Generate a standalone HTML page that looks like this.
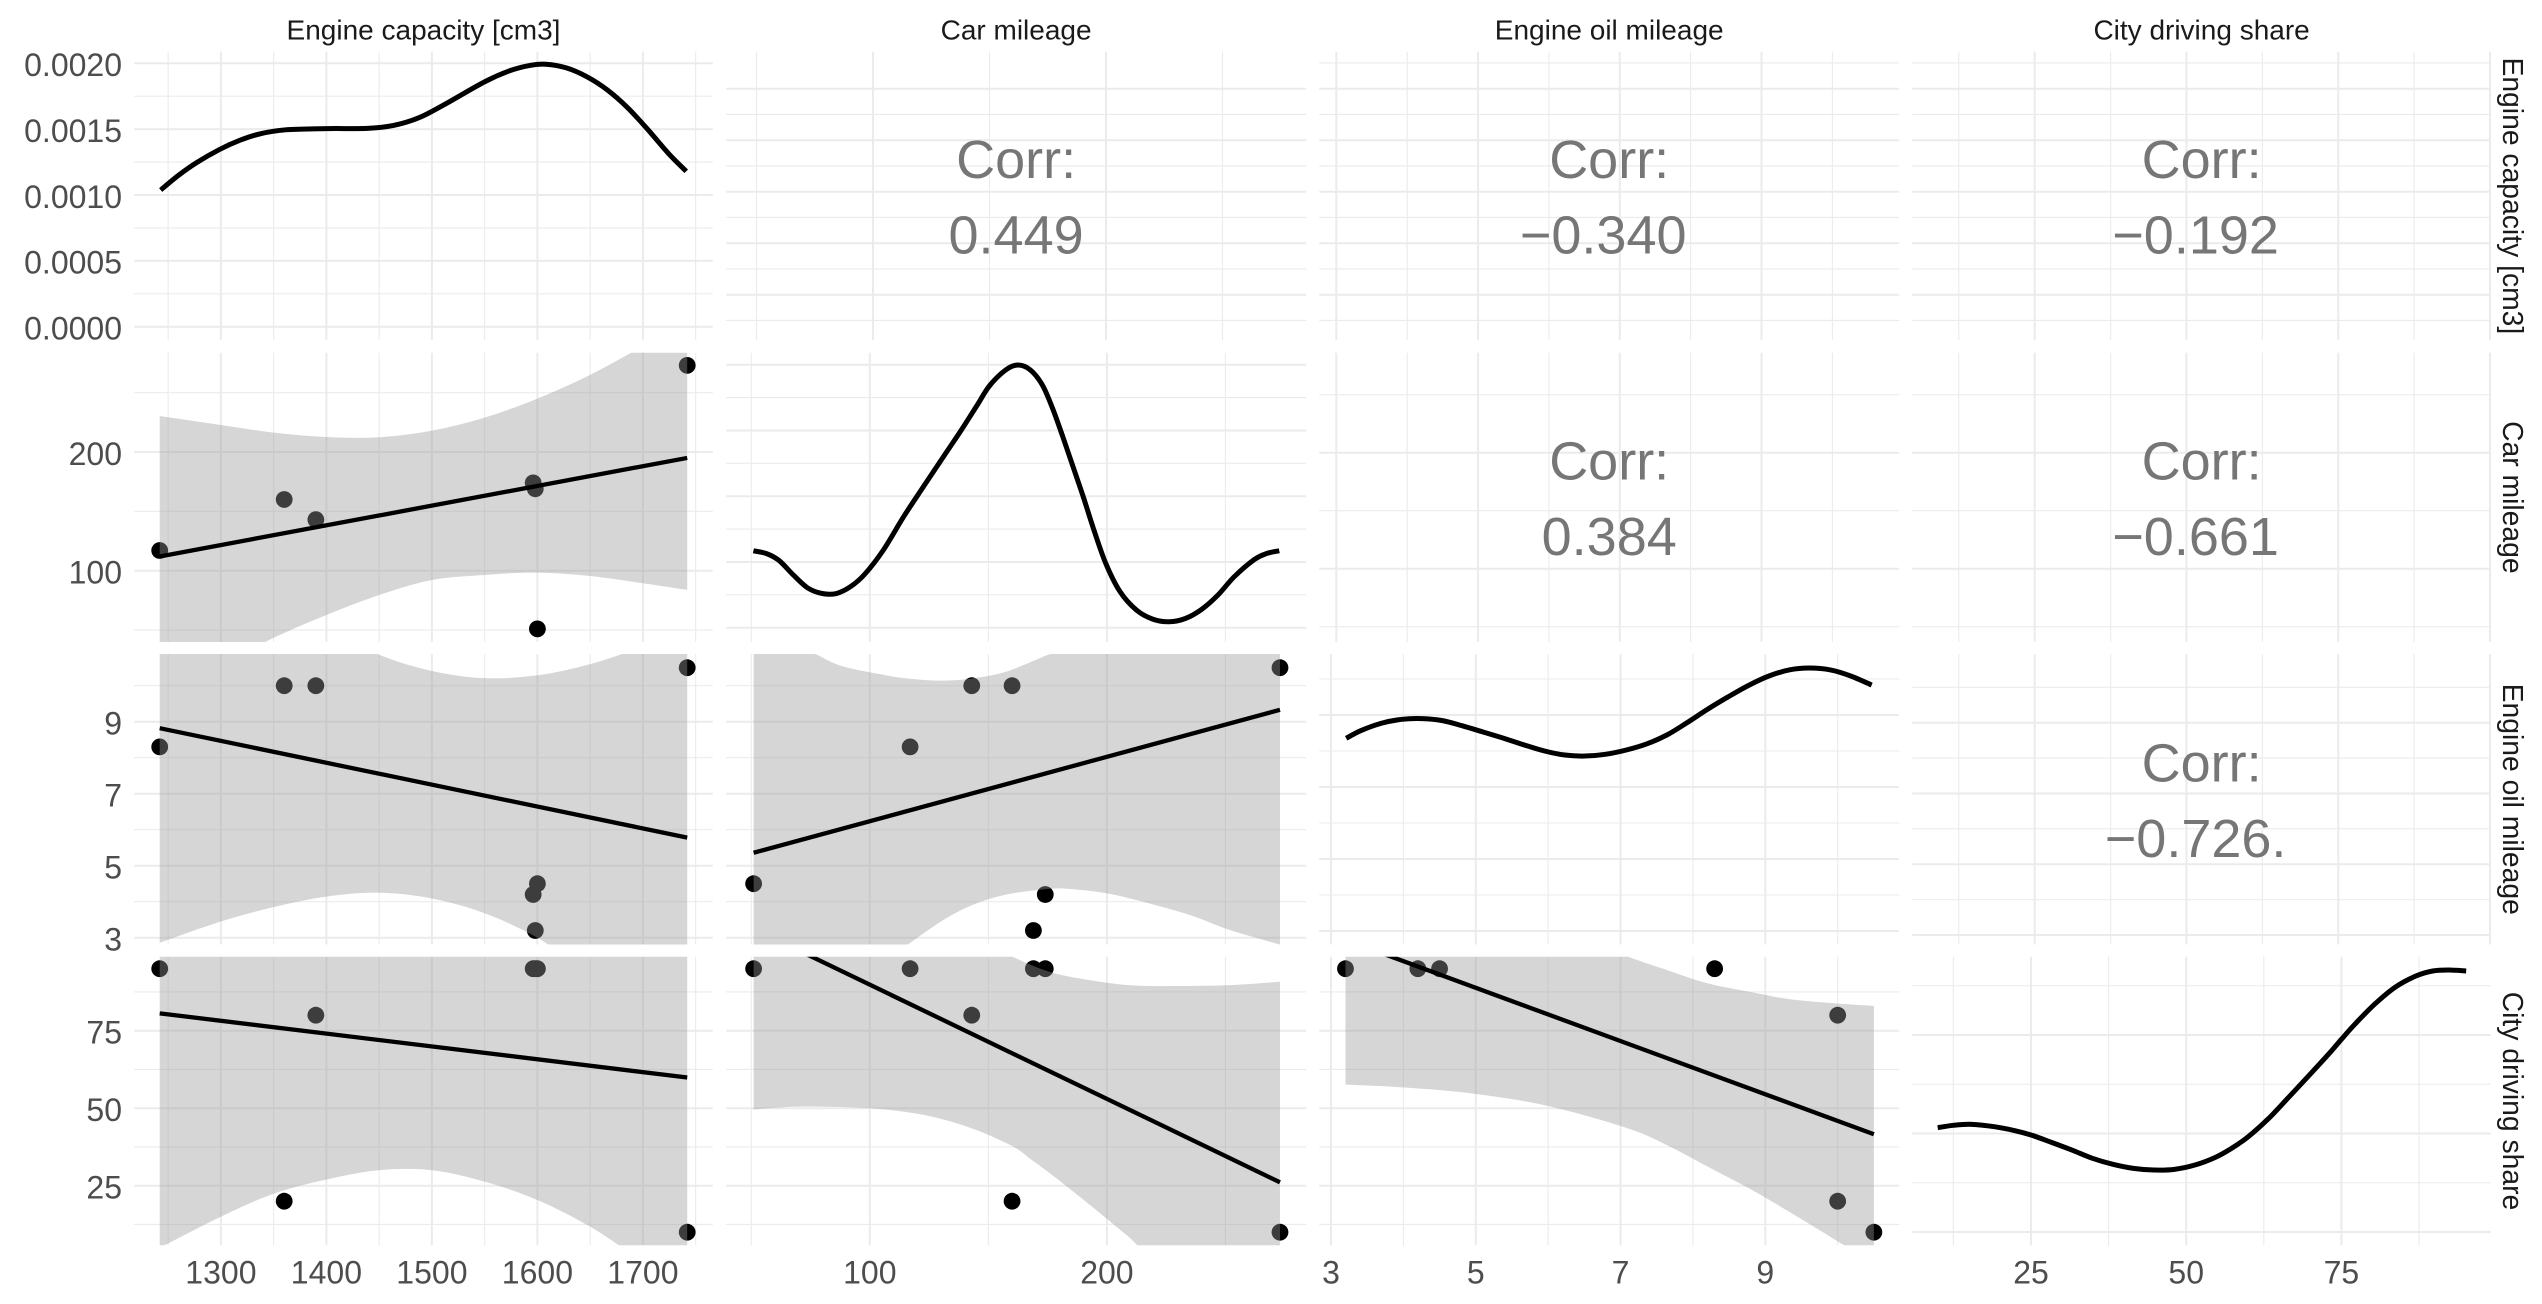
<!DOCTYPE html>
<html lang="en">
<head>
<meta charset="utf-8">
<title>Pairwise plot of car variables</title>
<style>
html,body{margin:0;padding:0;background:#fff;overflow:hidden;width:2542px;height:1304px;}
svg{display:block;font-family:"Liberation Sans",Arial,sans-serif;}
</style>
</head>
<body>
<svg id="chart" xmlns="http://www.w3.org/2000/svg" width="2542" height="1304" viewBox="0 0 2542 1304">
<rect x="0" y="0" width="2542" height="1304" fill="#ffffff"/>
<defs id="clips"></defs>
</svg>
<script>
// ---------- observations ----------
const capacity = [1242, 1360, 1390, 1596, 1598, 1600, 1742];
const mileage = [117, 160, 143, 174, 169, 51, 273];
const oil = [8.3, 10, 10, 4.2, 3.2, 4.5, 10.5];
const city = [95, 20, 80, 95, 95, 95, 10];

// ---------- labels ----------
const variableNames = ["Engine capacity [cm3]", "Car mileage", "Engine oil mileage", "City driving share"];
const corrLabels12 = "0.449";
const corrLabels13 = "\u22120.340";
const corrLabels14 = "\u22120.192";
const corrLabels23 = "0.384";
const corrLabels24 = "\u22120.661";
const corrLabels34 = "\u22120.726.";

// ---------- tick values ----------
const capMajor = [1300, 1400, 1500, 1600, 1700];
const capMinor = [1250, 1350, 1450, 1550, 1650, 1750];
const milMajor = [100, 200];
const milMinor = [50, 150, 250];
const oilMajor = [3, 5, 7, 9];
const oilMinor = [4, 6, 8, 10];
const cityMajor = [25, 50, 75];
const cityMinor = [12.5, 37.5, 62.5, 87.5];
const cityCorrMajor = [25, 50, 75, 100];
const densCapMajor = [0, 0.0005, 0.001, 0.0015, 0.002];
const densCapMinor = [0.00025, 0.00075, 0.00125, 0.00175];
const densCapLabels = ["0.0000", "0.0005", "0.0010", "0.0015", "0.0020"];
const densMilMajor = [0, 0.002, 0.004, 0.006, 0.008];
const densMilMinor = [0.001, 0.003, 0.005, 0.007];
const densOilMajor = [0, 0.05, 0.1, 0.15];
const densOilMinor = [0.025, 0.075, 0.125, 0.175];
const densCityMajor = [0, 0.01, 0.02];
const densCityMinor = [0.005, 0.015, 0.025];

// ---------- density curves ----------
const densCapX = [1242.9, 1259.9, 1276.8, 1298.6, 1317.9, 1337.3, 1361.4, 1400, 1438.8, 1463, 1487.2, 1511.4, 1550.1, 1574.3, 1593.6, 1608.1, 1627.5, 1646.8, 1666.2, 1685.6, 1704.9, 1724.3, 1741.1];
const densCapY = [0.001038, 0.00115, 0.001245, 0.001345, 0.001415, 0.001465, 0.001495, 0.001504, 0.001506, 0.001527, 0.001585, 0.001685, 0.00186, 0.001945, 0.001985, 0.001993, 0.001965, 0.001898, 0.001798, 0.001662, 0.001495, 0.001315, 0.00118];
const densMilX = [50.9, 56.6, 61.8, 67.8, 73.8, 79.9, 85.9, 91.9, 97.9, 105.7, 114.3, 122.9, 131.5, 138.4, 145.3, 150.5, 157.3, 162.5, 167.7, 172.8, 177.1, 181.4, 185.7, 190, 194.3, 199.5, 205.5, 212.4, 219.3, 226.2, 233.1, 240, 246.8, 253.7, 262.3, 267.5, 272.7];
const densMilY = [0.00234, 0.00225, 0.00204, 0.0016, 0.00121, 0.00104, 0.00104, 0.00125, 0.00163, 0.00236, 0.00338, 0.00432, 0.00525, 0.00599, 0.00677, 0.00736, 0.00784, 0.00799, 0.00784, 0.00738, 0.00667, 0.00581, 0.0049, 0.00399, 0.00302, 0.00196, 0.0011, 0.00054, 0.00026, 0.00018, 0.00028, 0.00056, 0.00099, 0.00155, 0.00208, 0.00226, 0.00234];
const densOilX = [3.21, 3.41, 3.69, 3.98, 4.26, 4.54, 4.82, 5.1, 5.39, 5.67, 5.95, 6.23, 6.51, 6.79, 7.08, 7.36, 7.64, 7.92, 8.2, 8.49, 8.77, 9.05, 9.33, 9.61, 9.9, 10.18, 10.47];
const densOilY = [0.1338, 0.1391, 0.1442, 0.147, 0.1475, 0.1461, 0.1424, 0.1382, 0.1338, 0.1292, 0.125, 0.1222, 0.1215, 0.1227, 0.1257, 0.1299, 0.1361, 0.1447, 0.1539, 0.1627, 0.1706, 0.1771, 0.1813, 0.1826, 0.1813, 0.1771, 0.1708];
const densCityX = [9.97, 12.5, 15.4, 19.1, 22.4, 25, 28.3, 31.6, 34.9, 38.2, 41.5, 44.8, 48.1, 51.4, 54.7, 57.3, 60, 63.3, 66.6, 69.9, 73.2, 75, 77.1, 80.4, 83.7, 87, 89.7, 92.3, 95.1];
const densCityY = [0.01059, 0.01083, 0.01093, 0.01069, 0.01029, 0.00985, 0.0091, 0.00832, 0.00748, 0.00687, 0.00646, 0.00629, 0.00636, 0.0068, 0.00758, 0.00849, 0.00968, 0.01154, 0.01374, 0.01597, 0.01824, 0.01956, 0.02105, 0.02315, 0.02487, 0.02599, 0.0265, 0.0266, 0.0265];

// ---------- regression lines and confidence bands ----------
const fitCapX = [1242, 1742];
const fitMilX = [51, 273];
const fitOilX = [3.2, 10.5];
const fitMilOnCap = [112, 195];
const fitOilOnCap = [8.82, 5.78];
const fitCityOnCap = [80.6, 59.9];
const fitOilOnMil = [5.36, 9.33];
const fitCityOnMil = [107.9, 26.1];
const fitCityOnOil = [104.3, 41.6];

const bandCapX = [1242, 1300, 1350, 1400, 1450, 1500, 1550, 1600, 1650, 1700, 1742];
const bandMilOnCapHigh = [230.3, 222.7, 216.3, 212.6, 212.4, 218, 229, 245, 265, 289, 310];
const bandMilOnCapLow = [-6.3, 20.5, 43.5, 62.7, 79.5, 92.2, 96.4, 98.4, 95.5, 89.4, 83.8];
const bandOilOnCapHigh = [14.78, 13.48, 12.48, 11.58, 10.86, 10.41, 10.21, 10.29, 10.6, 11.1, 11.9];
const bandOilOnCapLow = [2.86, 3.45, 3.85, 4.14, 4.25, 4.09, 3.68, 3.0, 2.08, 0.97, -0.3];
const bandCityOnCapHigh = [156, 141, 130, 121, 114, 110, 109, 111, 116, 122, 128];
const bandCityOnCapLow = [5, 15, 22.4, 27, 30, 30, 26.3, 20.4, 11.8, 1, -8];

const bandOilMilX = [51, 75, 88, 106, 116, 130, 143, 157, 173, 183, 200, 218, 235, 252, 273];
const bandOilOnMilHigh = [12.6, 10.95, 10.55, 10.3, 10.2, 10.14, 10.2, 10.38, 10.8, 11.08, 11.81, 12.75, 13.67, 14.7, 15.85];
const bandOilOnMilLow = [-2.8, 0.7, 1.49, 2.38, 2.81, 3.45, 3.9, 4.19, 4.34, 4.36, 4.23, 3.95, 3.63, 3.21, 2.81];

const bandCityMilX = [51, 71, 100, 123, 143, 160, 168, 178, 192, 209, 226, 252, 273];
const bandCityOnMilHigh = [166, 150.5, 129.6, 114.8, 104.5, 98.9, 96.2, 93.5, 91.4, 89.7, 89.4, 89.7, 90.8];
const bandCityOnMilLow = [49.6, 50.5, 50, 47.8, 43.5, 37.8, 33.5, 27.8, 19.3, 8.6, -2.6, -22, -38.6];

const bandCityOilX = [3.2, 4, 5, 6, 7.1, 7.64, 8.2, 8.77, 9.33, 10.09, 10.5];
const bandCityOnOilHigh = [151, 138, 123, 109.7, 98.9, 94.6, 90.3, 87.6, 85.2, 83.6, 83];
const bandCityOnOilLow = [57.6, 56.7, 54.6, 50.7, 43.5, 38.1, 31.2, 24.2, 16.6, 5.8, 0.2];

// ---------- layout and axis functions ----------
const NS = "http://www.w3.org/2000/svg";
const svg = document.getElementById("chart");
const clipDefs = document.getElementById("clips");
const colBox = [[134.2, 712.8], [726.1, 1306.1], [1319.2, 1899.2], [1912.3, 2490.9]];
const rowBox = [[51.7, 340], [352.7, 642], [654, 944.5], [956.7, 1245.3]];

function linear(d0, r0, d1, r1) {
  return function (v) { return r0 + (v - d0) * (r1 - r0) / (d1 - d0); };
}
const xCapacity = linear(1300, 220.9, 1700, 642.9);
const xMileage = linear(100, 869.8, 200, 1106.9);
const xOil = linear(3, 1331, 9, 1765.3);
const xCity = linear(25, 2031, 75, 2341.4);
const xMileageCorr = linear(100, 873, 200, 1106);
const xOilCorr = linear(3, 1336.3, 9, 1761.5);
const xCityCorr = linear(25, 2034.7, 100, 2490);
const yCapacityCorr = linear(1300, 294.7, 1700, 88.7);
const yMileage = linear(100, 570.7, 200, 452);
const yMileageCorr = linear(100, 568.7, 200, 452.7);
const yOil = linear(3, 937.7, 9, 721.7);
const yOilCorr = linear(3, 935, 9, 722.7);
const yCity = linear(25, 1185.7, 75, 1030.7);
const yDensCap = linear(0, 326.7, 0.002, 63.3);
const yDensMil = linear(0, 627.7, 0.008, 364.7);
const yDensOil = linear(0, 931, 0.15, 715);
const yDensCity = linear(0, 1232, 0.02, 1035);

function node(parent, type, name) {
  const el = document.createElementNS(NS, type);
  
  
  parent.appendChild(el);
  return el;
}

function makePanel(col, row, name) {
  const g = node(svg, "g", name);
  const id = "clip-" + col + "-" + row;
  const cp = document.createElementNS(NS, "clipPath");
  cp.setAttribute("id", id);
  const r = document.createElementNS(NS, "rect");
  r.setAttribute("x", colBox[col][0]);
  r.setAttribute("y", rowBox[row][0]);
  r.setAttribute("width", colBox[col][1] - colBox[col][0]);
  r.setAttribute("height", rowBox[row][1] - rowBox[row][0]);
  cp.appendChild(r);
  clipDefs.appendChild(cp);
  return { g: g, col: col, row: row, clip: "url(#" + id + ")" };
}

function gridLine(panel, isVertical, pos, width, name) {
  const l = node(panel.g, "line", name);
  if (isVertical) {
    l.setAttribute("x1", pos);
    l.setAttribute("x2", pos);
    l.setAttribute("y1", rowBox[panel.row][0]);
    l.setAttribute("y2", rowBox[panel.row][1]);
  } else {
    l.setAttribute("x1", colBox[panel.col][0]);
    l.setAttribute("x2", colBox[panel.col][1]);
    l.setAttribute("y1", pos);
    l.setAttribute("y2", pos);
  }
  l.setAttribute("stroke", "#EBEBEB");
  l.setAttribute("stroke-width", width);
}

function drawGrid(panel, xScale, yScale, xMaj, xMin, yMaj, yMin) {
  xMin.forEach(function (v) { gridLine(panel, true, xScale(v), 1.1, "minor-gridline-x"); });
  yMin.forEach(function (v) { gridLine(panel, false, yScale(v), 1.1, "minor-gridline-y"); });
  xMaj.forEach(function (v) { gridLine(panel, true, xScale(v), 2, "major-gridline-x"); });
  yMaj.forEach(function (v) { gridLine(panel, false, yScale(v), 2, "major-gridline-y"); });
}

function smoothSegments(pts) {
  let d = "";
  for (let i = 0; i < pts.length - 1; i++) {
    const p0 = pts[Math.max(0, i - 1)], p1 = pts[i], p2 = pts[i + 1], p3 = pts[Math.min(pts.length - 1, i + 2)];
    const c1x = p1[0] + (p2[0] - p0[0]) / 6, c1y = p1[1] + (p2[1] - p0[1]) / 6;
    const c2x = p2[0] - (p3[0] - p1[0]) / 6, c2y = p2[1] - (p3[1] - p1[1]) / 6;
    d += "C" + c1x.toFixed(2) + " " + c1y.toFixed(2) + " " + c2x.toFixed(2) + " " + c2y.toFixed(2) + " " + p2[0].toFixed(2) + " " + p2[1].toFixed(2);
  }
  return d;
}

function toPoints(xs, ys, xScale, yScale) {
  return xs.map(function (v, i) { return [xScale(v), yScale(ys[i])]; });
}

function bandPoints(panel, xs, ys, xScale, yScale) {
  const top = rowBox[panel.row][0] - 30;
  const bottom = rowBox[panel.row][1] + 30;
  return toPoints(xs, ys, xScale, yScale).map(function (p) {
    return [p[0], Math.min(bottom, Math.max(top, p[1]))];
  });
}

function drawDensity(panel, xs, ys, xScale, yScale) {
  const pts = toPoints(xs, ys, xScale, yScale);
  const p = node(panel.g, "path", "density-curve");
  p.setAttribute("d", "M" + pts[0][0].toFixed(2) + " " + pts[0][1].toFixed(2) + smoothSegments(pts));
  p.setAttribute("fill", "none");
  p.setAttribute("stroke", "#000000");
  p.setAttribute("stroke-width", "5");
}

function drawScatter(panel, xValues, yValues, xScale, yScale, bandX, bandHigh, bandLow, fitX, fitY) {
  xValues.forEach(function (v, i) {
    const c = node(panel.g, "circle", "data-point");
    c.setAttribute("cx", xScale(v));
    c.setAttribute("cy", yScale(yValues[i]));
    c.setAttribute("r", "8.4");
    c.setAttribute("fill", "#000000");
  });
  const hi = bandPoints(panel, bandX, bandHigh, xScale, yScale);
  const lo = bandPoints(panel, bandX, bandLow, xScale, yScale).reverse();
  const b = node(panel.g, "path", "confidence-band");
  b.setAttribute("d", "M" + hi[0][0].toFixed(2) + " " + hi[0][1].toFixed(2) + smoothSegments(hi) +
    "L" + lo[0][0].toFixed(2) + " " + lo[0][1].toFixed(2) + smoothSegments(lo) + "Z");
  b.setAttribute("fill", "#999999");
  b.setAttribute("fill-opacity", "0.4");
  b.setAttribute("clip-path", panel.clip);
  const l = node(panel.g, "line", "regression-line");
  l.setAttribute("x1", xScale(fitX[0]));
  l.setAttribute("y1", yScale(fitY[0]));
  l.setAttribute("x2", xScale(fitX[1]));
  l.setAttribute("y2", yScale(fitY[1]));
  l.setAttribute("stroke", "#000000");
  l.setAttribute("stroke-width", "4.3");
  l.setAttribute("clip-path", panel.clip);
}

function label(parent, text, x, y, size, color, anchor, name) {
  const t = node(parent, "text", name);
  t.setAttribute("x", x);
  t.setAttribute("y", y);
  t.setAttribute("font-size", size);
  t.setAttribute("fill", color);
  t.setAttribute("text-anchor", anchor);
  t.textContent = text;
  return t;
}

function drawCorr(panel, value) {
  const cx = (colBox[panel.col][0] + colBox[panel.col][1]) / 2;
  const cy = (rowBox[panel.row][0] + rowBox[panel.row][1]) / 2;
  label(panel.g, "Corr:", cx, cy - 18, 54, "#767676", "middle", "corr-title");
  const dx = value.charAt(0) === "\u2212" ? -6 : 0;
  label(panel.g, value, cx + dx, cy + 57.5, 54, "#767676", "middle", "corr-value");
}

// ---------- row 1 ----------
const p11 = makePanel(0, 0, "panel-capacity-density");
drawGrid(p11, xCapacity, yDensCap, capMajor, capMinor, densCapMajor, densCapMinor);
drawDensity(p11, densCapX, densCapY, xCapacity, yDensCap);

const p12 = makePanel(1, 0, "panel-corr-capacity-mileage");
drawGrid(p12, xMileageCorr, yCapacityCorr, milMajor, milMinor, capMajor, capMinor.slice(0, 5));
drawCorr(p12, corrLabels12);

const p13 = makePanel(2, 0, "panel-corr-capacity-oil");
drawGrid(p13, xOilCorr, yCapacityCorr, oilMajor, oilMinor, capMajor, capMinor);
drawCorr(p13, corrLabels13);

const p14 = makePanel(3, 0, "panel-corr-capacity-city");
drawGrid(p14, xCityCorr, yCapacityCorr, cityCorrMajor, cityMinor, capMajor, capMinor);
drawCorr(p14, corrLabels14);

// ---------- row 2 ----------
const p21 = makePanel(0, 1, "panel-scatter-mileage-capacity");
drawGrid(p21, xCapacity, yMileage, capMajor, capMinor, milMajor, milMinor);
drawScatter(p21, capacity, mileage, xCapacity, yMileage, bandCapX, bandMilOnCapHigh, bandMilOnCapLow, fitCapX, fitMilOnCap);

const p22 = makePanel(1, 1, "panel-mileage-density");
drawGrid(p22, xMileage, yDensMil, milMajor, milMinor, densMilMajor, densMilMinor);
drawDensity(p22, densMilX, densMilY, xMileage, yDensMil);

const p23 = makePanel(2, 1, "panel-corr-mileage-oil");
drawGrid(p23, xOilCorr, yMileageCorr, oilMajor, oilMinor, milMajor, milMinor);
drawCorr(p23, corrLabels23);

const p24 = makePanel(3, 1, "panel-corr-mileage-city");
drawGrid(p24, xCityCorr, yMileageCorr, cityCorrMajor, cityMinor, milMajor, milMinor);
drawCorr(p24, corrLabels24);

// ---------- row 3 ----------
const p31 = makePanel(0, 2, "panel-scatter-oil-capacity");
drawGrid(p31, xCapacity, yOil, capMajor, capMinor, oilMajor, oilMinor);
drawScatter(p31, capacity, oil, xCapacity, yOil, bandCapX, bandOilOnCapHigh, bandOilOnCapLow, fitCapX, fitOilOnCap);

const p32 = makePanel(1, 2, "panel-scatter-oil-mileage");
drawGrid(p32, xMileage, yOil, milMajor, milMinor, oilMajor, oilMinor);
drawScatter(p32, mileage, oil, xMileage, yOil, bandOilMilX, bandOilOnMilHigh, bandOilOnMilLow, fitMilX, fitOilOnMil);

const p33 = makePanel(2, 2, "panel-oil-density");
drawGrid(p33, xOil, yDensOil, oilMajor, oilMinor, densOilMajor, densOilMinor);
drawDensity(p33, densOilX, densOilY, xOil, yDensOil);

const p34 = makePanel(3, 2, "panel-corr-oil-city");
drawGrid(p34, xCityCorr, yOilCorr, cityCorrMajor, cityMinor, oilMajor, oilMinor);
drawCorr(p34, corrLabels34);

// ---------- row 4 ----------
const p41 = makePanel(0, 3, "panel-scatter-city-capacity");
drawGrid(p41, xCapacity, yCity, capMajor, capMinor, cityMajor, cityMinor);
drawScatter(p41, capacity, city, xCapacity, yCity, bandCapX, bandCityOnCapHigh, bandCityOnCapLow, fitCapX, fitCityOnCap);

const p42 = makePanel(1, 3, "panel-scatter-city-mileage");
drawGrid(p42, xMileage, yCity, milMajor, milMinor, cityMajor, cityMinor);
drawScatter(p42, mileage, city, xMileage, yCity, bandCityMilX, bandCityOnMilHigh, bandCityOnMilLow, fitMilX, fitCityOnMil);

const p43 = makePanel(2, 3, "panel-scatter-city-oil");
drawGrid(p43, xOil, yCity, oilMajor, oilMinor, cityMajor, cityMinor);
drawScatter(p43, oil, city, xOil, yCity, bandCityOilX, bandCityOnOilHigh, bandCityOnOilLow, fitOilX, fitCityOnOil);

const p44 = makePanel(3, 3, "panel-city-density");
drawGrid(p44, xCity, yDensCity, cityMajor, cityMinor, densCityMajor, densCityMinor);
drawDensity(p44, densCityX, densCityY, xCity, yDensCity);

// ---------- axis tick labels ----------
const axisColor = "#4D4D4D";
const axisSize = 32;
const yLabelRight = 122;
const yLabelDrop = 12.8;
const xLabelBaseline = 1283.3;

densCapMajor.forEach(function (v, i) {
  label(svg, densCapLabels[i], yLabelRight, yDensCap(v) + yLabelDrop, axisSize, axisColor, "end", "y-tick-label-density");
});
milMajor.forEach(function (v) {
  label(svg, String(v), yLabelRight, yMileage(v) + yLabelDrop, axisSize, axisColor, "end", "y-tick-label-mileage");
});
oilMajor.forEach(function (v) {
  label(svg, String(v), yLabelRight, yOil(v) + yLabelDrop, axisSize, axisColor, "end", "y-tick-label-oil");
});
cityMajor.forEach(function (v) {
  label(svg, String(v), yLabelRight, yCity(v) + yLabelDrop, axisSize, axisColor, "end", "y-tick-label-city");
});
capMajor.forEach(function (v) {
  label(svg, String(v), xCapacity(v), xLabelBaseline, axisSize, axisColor, "middle", "x-tick-label-capacity");
});
milMajor.forEach(function (v) {
  label(svg, String(v), xMileage(v), xLabelBaseline, axisSize, axisColor, "middle", "x-tick-label-mileage");
});
oilMajor.forEach(function (v) {
  label(svg, String(v), xOil(v), xLabelBaseline, axisSize, axisColor, "middle", "x-tick-label-oil");
});
cityMajor.forEach(function (v) {
  label(svg, String(v), xCity(v), xLabelBaseline, axisSize, axisColor, "middle", "x-tick-label-city");
});

// ---------- facet strips ----------
variableNames.forEach(function (name, i) {
  const cx = (colBox[i][0] + colBox[i][1]) / 2;
  label(svg, name, cx, 39.3, 28, "#1A1A1A", "middle", "column-strip-label");
  const cy = (rowBox[i][0] + rowBox[i][1]) / 2;
  const t = label(svg, name, 0, 0, 28.3, "#1A1A1A", "middle", "row-strip-label");
  t.setAttribute("transform", "translate(2503 " + cy + ") rotate(90)");
});
</script>
</body>
</html>
